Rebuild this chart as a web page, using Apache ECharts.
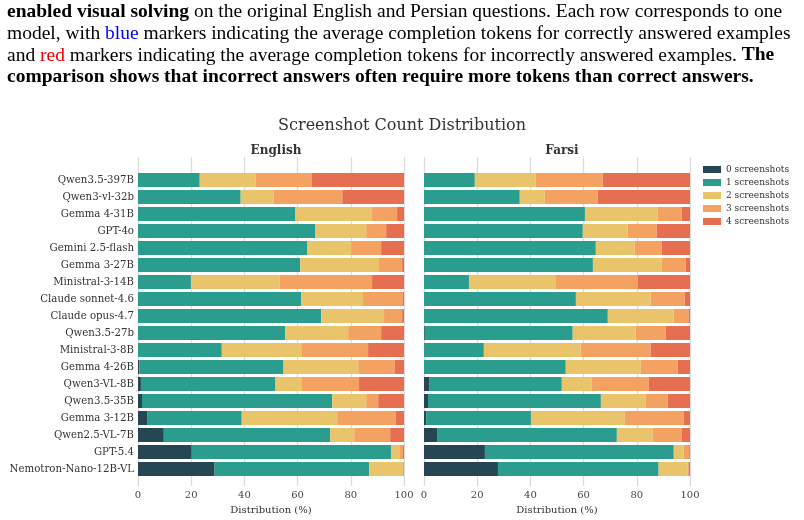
<!DOCTYPE html>
<html style="height:100%;">
<head>
    <meta charset="utf-8">
    <title>Screenshot Count Distribution</title>
    <script src="https://cdn.jsdelivr.net/npm/echarts@6/dist/echarts.min.js"></script>
</head>
<body style="height: 100%; margin: 0; background: #fff;">
    <div id="main" style="width: 804px; height: 520px;"></div>
    <script type="text/javascript">
    // models, top to bottom
    var models = ['Qwen3.5-397B', 'Qwen3-vl-32b', 'Gemma 4-31B', 'GPT-4o', 'Gemini 2.5-flash',
        'Gemma 3-27B', 'Ministral-3-14B', 'Claude sonnet-4.6', 'Claude opus-4.7', 'Qwen3.5-27b',
        'Ministral-3-8B', 'Gemma 4-26B', 'Qwen3-VL-8B', 'Qwen3.5-35B', 'Gemma 3-12B',
        'Qwen2.5-VL-7B', 'GPT-5.4', 'Nemotron-Nano-12B-VL'];
    var seriesNames = ['0 screenshots', '1 screenshots', '2 screenshots', '3 screenshots', '4 screenshots'];
    var colors = ['#264653', '#2a9d8f', '#e9c46a', '#f4a261', '#e76f51'];
    var xTicks = [0, 20, 40, 60, 80, 100];

    // English: share (%) of each screenshot count, per model
    var en0 = [0, 0, 0, 0, 0, 0, 0, 0, 0, 0, 0, 0.5, 1.1, 1.5, 3.4, 9.7, 20.2, 28.8];
    var en1 = [23.2, 38.6, 59.2, 66.7, 63.7, 61.0, 19.9, 61.4, 68.9, 55.4, 31.5, 54.2, 50.6, 71.5, 35.6, 62.6, 74.9, 58.1];
    var en2 = [21.0, 12.3, 28.8, 19.1, 16.4, 29.6, 33.3, 23.2, 23.6, 23.6, 29.9, 28.1, 9.7, 12.8, 35.9, 9.0, 3.4, 12.7];
    var en3 = [21.0, 25.9, 9.4, 7.5, 11.3, 8.7, 34.8, 15.0, 6.8, 12.4, 25.1, 13.8, 21.7, 4.5, 22.1, 13.5, 1.1, 0.2];
    var en4 = [34.8, 23.2, 2.6, 6.7, 8.6, 0.7, 12.0, 0.4, 0.7, 8.6, 13.5, 3.4, 16.9, 9.7, 3.0, 5.2, 0.4, 0.2];

    // Farsi
    var fa0 = [0, 0, 0, 0, 0, 0, 0, 0, 0, 0.3, 0, 0, 1.9, 1.5, 0.8, 4.9, 22.9, 27.8];
    var fa1 = [19.1, 36.0, 60.5, 59.7, 64.6, 63.5, 16.9, 57.1, 69.1, 55.6, 22.5, 53.3, 49.9, 65.0, 39.4, 67.6, 71.0, 60.4];
    var fa2 = [22.9, 9.4, 27.4, 16.9, 14.6, 25.9, 32.7, 28.1, 24.8, 23.7, 36.4, 28.2, 11.3, 16.9, 35.3, 13.5, 3.7, 10.9];
    var fa3 = [25.2, 19.9, 9.0, 10.9, 10.2, 9.0, 30.8, 12.8, 5.6, 11.3, 26.3, 13.9, 21.4, 8.2, 22.1, 10.9, 2.1, 0.4];
    var fa4 = [32.8, 34.7, 3.1, 12.5, 10.6, 1.6, 19.6, 2.0, 0.5, 9.1, 14.8, 4.6, 15.5, 8.4, 2.4, 3.1, 0.3, 0.5];

    var enData = [en0, en1, en2, en3, en4];
    var faData = [fa0, fa1, fa2, fa3, fa4];

    var serif = 'DejaVu Serif';
    var txt = '#333';

    // two panels: a background grid (gridlines, ticks) and a bar grid inside it
    var panels = [{ left: 138, width: 266 }, { left: 424, width: 266 }];
    var grids = [], xAxes = [], yAxes = [];
    panels.forEach(function (p, i) {
        grids.push({ left: p.left, width: p.width, top: 157, height: 333 });
        grids.push({ left: p.left, width: p.width, top: 171.5, height: 306 });
        xAxes.push({
            gridIndex: i * 2, type: 'value', min: 0, max: 100, interval: 20,
            axisLine: { show: false }, axisTick: { show: false },
            splitLine: { lineStyle: { color: '#dcdcdc', width: 1.3 } },
            axisLabel: {
                margin: 4, fontFamily: serif, fontSize: 10, color: '#444',
                formatter: function (v) { return xTicks.indexOf(v) >= 0 ? String(v) : ''; }
            },
            name: 'Distribution (%)', nameLocation: 'middle', nameGap: 18,
            nameTextStyle: { fontFamily: serif, fontSize: 10, color: txt }
        });
        xAxes.push({
            gridIndex: i * 2 + 1, type: 'value', min: 0, max: 100,
            show: false, splitLine: { show: false }
        });
        yAxes.push({
            gridIndex: i * 2, type: 'value', show: false, splitLine: { show: false }
        });
        yAxes.push({
            gridIndex: i * 2 + 1, type: 'category', data: models, inverse: true,
            axisLine: { show: false }, axisTick: { show: false },
            axisLabel: {
                show: i === 0, margin: 4, fontFamily: serif, fontSize: 10.2, color: txt
            }
        });
    });

    var series = [];
    [enData, faData].forEach(function (panelData, p) {
        panelData.forEach(function (vals, k) {
            series.push({
                name: seriesNames[k], type: 'bar', stack: 'p' + p,
                xAxisIndex: p * 2 + 1, yAxisIndex: p * 2 + 1,
                barWidth: 14, data: vals,
                itemStyle: { color: colors[k] },
                emphasis: { disabled: true }
            });
        });
    });

    var capFont = 'Liberation Serif';
    var capSize = 19.5;
    var capLines = [
        '{b|enabled visual solving} on the original English and Persian questions. Each row corresponds to one',
        'model, with {blue|blue} markers indicating the average completion tokens for correctly answered examples',
        'and {red|red} markers indicating the average completion tokens for incorrectly answered examples. {b|The}',
        '{b|comparison shows that incorrect answers often require more tokens than correct answers.}'
    ];
    var capRich = {
        b: { fontFamily: capFont, fontSize: capSize, fontWeight: 'bold', fill: '#000' },
        blue: { fontFamily: capFont, fontSize: capSize, fill: '#0000ee' },
        red: { fontFamily: capFont, fontSize: capSize, fill: '#ee0000' }
    };
    var graphics = capLines.map(function (line, i) {
        return {
            type: 'text', left: 7, top: 2 + i * 21.7,
            style: {
                text: line, rich: capRich, fontFamily: capFont, fontSize: capSize, fill: '#000'
            }
        };
    });

    var myChart = echarts.init(document.getElementById('main'), null, { renderer: 'canvas' });
    myChart.setOption({
        animation: false,
        backgroundColor: '#fff',
        title: [{
            text: 'Screenshot Count Distribution', left: 'center', top: 113,
            textStyle: { fontFamily: serif, fontSize: 16, fontWeight: 'normal', color: txt }
        }, {
            text: 'English', left: 271, textAlign: 'center', top: 140,
            textStyle: { fontFamily: serif, fontSize: 12, fontWeight: 'bold', color: txt }
        }, {
            text: 'Farsi', left: 557, textAlign: 'center', top: 140,
            textStyle: { fontFamily: serif, fontSize: 12, fontWeight: 'bold', color: txt }
        }],
        legend: {
            orient: 'vertical', left: 703, top: 165, padding: 0,
            itemWidth: 18, itemHeight: 7, itemGap: 4, itemStyle: { borderWidth: 0 },
            icon: 'rect', data: seriesNames,
            textStyle: { fontFamily: serif, fontSize: 9, color: txt }
        },
        grid: grids,
        xAxis: xAxes,
        yAxis: yAxes,
        graphic: graphics,
        series: series
    });
    </script>
</body>
</html>
